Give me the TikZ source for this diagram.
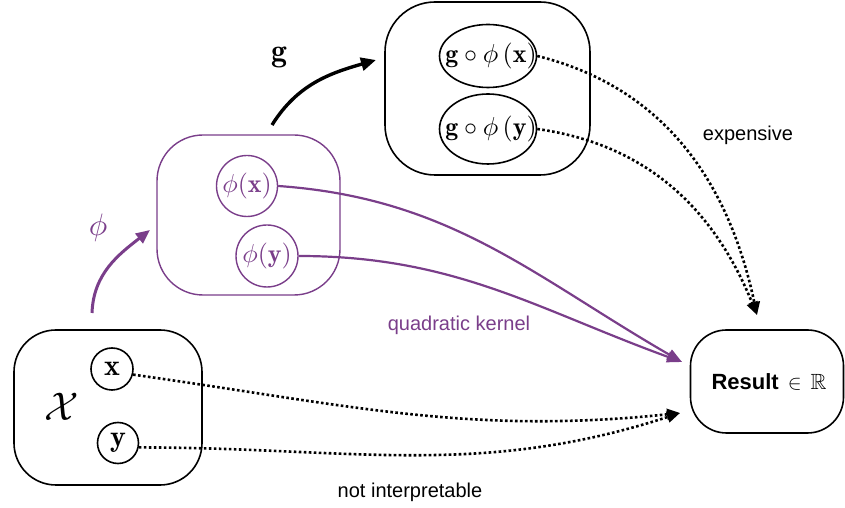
\documentclass[tikz,border=0pt]{standalone}
\usepackage{graphicx}
\usepackage{amssymb}
\usepackage{fontspec}
\newfontfamily\lsans{Liberation Sans}
\usetikzlibrary{arrows.meta,shapes.geometric}
\definecolor{kpurple}{RGB}{122,62,138}
\newcommand{\smath}[2]{\scalebox{#1}{$#2$}}
\begin{document}
\begin{tikzpicture}[x=1pt,y=1pt,
  rbox/.style={draw, line width=1.6pt, rounded corners=#1, inner sep=0pt},
  pbox/.style={draw=kpurple, line width=1.4pt, rounded corners=#1, inner sep=0pt},
  bcirc/.style={draw, circle, line width=1.6pt, inner sep=0pt, minimum size=#1},
  pcirc/.style={draw=kpurple, circle, line width=1.4pt, inner sep=0pt, minimum size=#1},
  bell/.style={draw, ellipse, line width=1.6pt, inner sep=0pt, minimum width=97pt, minimum height=#1},
  txt/.style={inner sep=0pt},
  dots/.style={line width=2.6pt, dash pattern=on 2.6pt off 2.4pt, -{Triangle[length=13pt,width=11pt]}},
  pline/.style={draw=kpurple, line width=2.2pt, -{Triangle[length=15pt,width=11pt]}},
  lbl/.style={font=\lsans\fontsize{20}{24}\selectfont}
]
\useasboundingbox (0,0) rectangle (845,508);

% boxes
\node[rbox=42, minimum width=188pt, minimum height=155pt] (X) at (108,100.5) {};
\node[pbox=46, minimum width=183pt, minimum height=160pt] (P) at (248.5,293) {};
\node[rbox=50, minimum width=205pt, minimum height=173pt] (G) at (487.5,419.5) {};
\node[rbox=36, minimum width=153pt, minimum height=103pt] (res) at (767,126.5) {};
\node[txt, font=\lsans\bfseries\fontsize{22}{26}\selectfont] (rest) at (769,126) {Result\hspace{9pt}$\in$\hspace{9pt}$\mathbb{R}$};

% inner shapes
\node[bcirc=42pt] (cx) at (112,139) {};
\node[bcirc=41pt] (cy) at (118,65) {};
\node[pcirc=61pt] (px) at (247,322) {};
\node[pcirc=62pt] (py) at (267,252) {};
\node[bell=63pt] (gx) at (488,452) {};
\node[bell=70pt] (gy) at (488,379) {};

% inner texts
\node[txt] (calX) at (62,101) {\smath{4.0}{\mathcal{X}}};
\node[txt] (cxt) at (cx) {\smath{3.0}{\mathbf{x}}};
\node[txt] (cyt) at (cy) {\smath{3.0}{\mathbf{y}}};
\node[txt, text=kpurple] (pxt) at (px) {\smath{2.6}{\phi(\mathbf{x})}};
\node[txt, text=kpurple] (pyt) at (py) {\smath{2.6}{\phi(\mathbf{y})}};
\node[txt] (gxt) at ([xshift=3pt]gx) {\smath{2.6}{\mathbf{g}\circ\phi\,(\mathbf{x})}};
\node[txt] (gyt) at ([xshift=3pt]gy) {\smath{2.6}{\mathbf{g}\circ\phi\,(\mathbf{y})}};

% labels
\node[txt, text=kpurple] (phil) at (98,280) {\smath{3.1}{\phi}};
\node[txt] (gl) at (279,451) {\smath{3.2}{\mathbf{g}}};
\node[lbl] (exp) at (748,373) {expensive};
\node[lbl, text=kpurple] (qk) at (459,183) {quadratic kernel};
\node[lbl] (ni) at (410,16) {not interpretable};

% free ends
\coordinate (phiS) at (92,195);
\coordinate (phiE) at (150,278);
\coordinate (gS) at (272,383);
\coordinate (gE) at (376,448);
\coordinate (tipTop) at (757,193);
\coordinate (tipP) at (682,146);
\coordinate (tipB) at (680,95);

% map arrows
\draw[draw=kpurple, line width=3pt, -{Triangle[length=14pt,width=12pt]}] (phiS) to[out=88,in=218] (phiE);
\draw[line width=3.4pt, -{Triangle[length=15pt,width=13pt]}] (gS) to[out=58,in=196] (gE);

% connectors
\draw[pline] (px.east) to[out=-4,in=150] (tipP);
\draw[pline] (py.east) to[out=0,in=160] (tipP);
\draw[dots] (gx.east) to[out=-14,in=102] (tipTop);
\draw[dots] (gy.east) to[out=-8,in=112] (tipTop);
\draw[dots] (cx.-15) to[out=-8,in=186] (tipB);
\draw[dots] (cy.-12) to[out=0,in=198] (tipB);
\end{tikzpicture}
\end{document}
